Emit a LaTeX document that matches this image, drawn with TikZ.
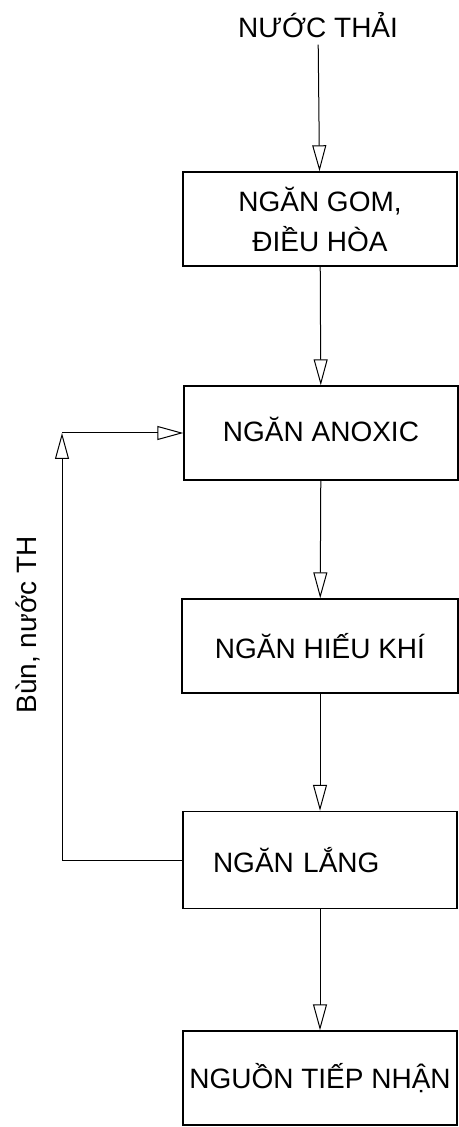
\documentclass[tikz,border=0pt]{standalone}
\usepackage{fontspec}
\setmainfont{Liberation Sans}
\usetikzlibrary{arrows.meta}

\begin{document}
\begin{tikzpicture}[x=0.5pt, y=-0.5pt,
	box/.style = {draw, line width=0.7pt, minimum width=137pt, minimum height=47pt,
		inner sep=0pt, align=center, font=\fontsize{14}{20}\selectfont},
	leftbox/.style = {box, text width=107pt, inner xsep=15pt, align=left},
	flow/.style = {-{Triangle[open, length=13pt, width=7pt]}, line width=0.5pt}]
	\useasboundingbox (0,0) rectangle (459,1127);

	\node[font=\fontsize{14}{16}\selectfont](inflow) at (318,25) {NƯỚC THẢI};

	\node[box](gom) at (320,219) {NGĂN GOM,\\ĐIỀU HÒA};
	\node[box](anoxic) at (321,433) {\raisebox{4pt}{NGĂN ANOXIC}};
	\node[box, minimum width=138pt](hieukhi) at (320,646) {NGĂN HIẾU KHÍ};
	\node[leftbox, minimum height=48.5pt](lang) at (320,860) {NGĂN LẮNG};
	\node[box](nguon) at (320,1078) {NGUỒN TIẾP NHẬN};

	\draw[flow] (inflow) -- (gom);
	\draw[flow] (gom) -- (anoxic);
	\draw[flow] (anoxic) -- (hieukhi);
	\draw[flow] (hieukhi) -- (lang);
	\draw[flow] (lang) -- (nguon);

	% return line from the settler
	\coordinate(bend) at (62,433);
	\draw[flow] (lang.west) -| (bend);
	\draw[flow] (bend) -- (anoxic.west);
	\node[rotate=90, font=\fontsize{14}{16}\selectfont](recycle) at (28,625) {Bùn, nước TH};
\end{tikzpicture}
\end{document}
